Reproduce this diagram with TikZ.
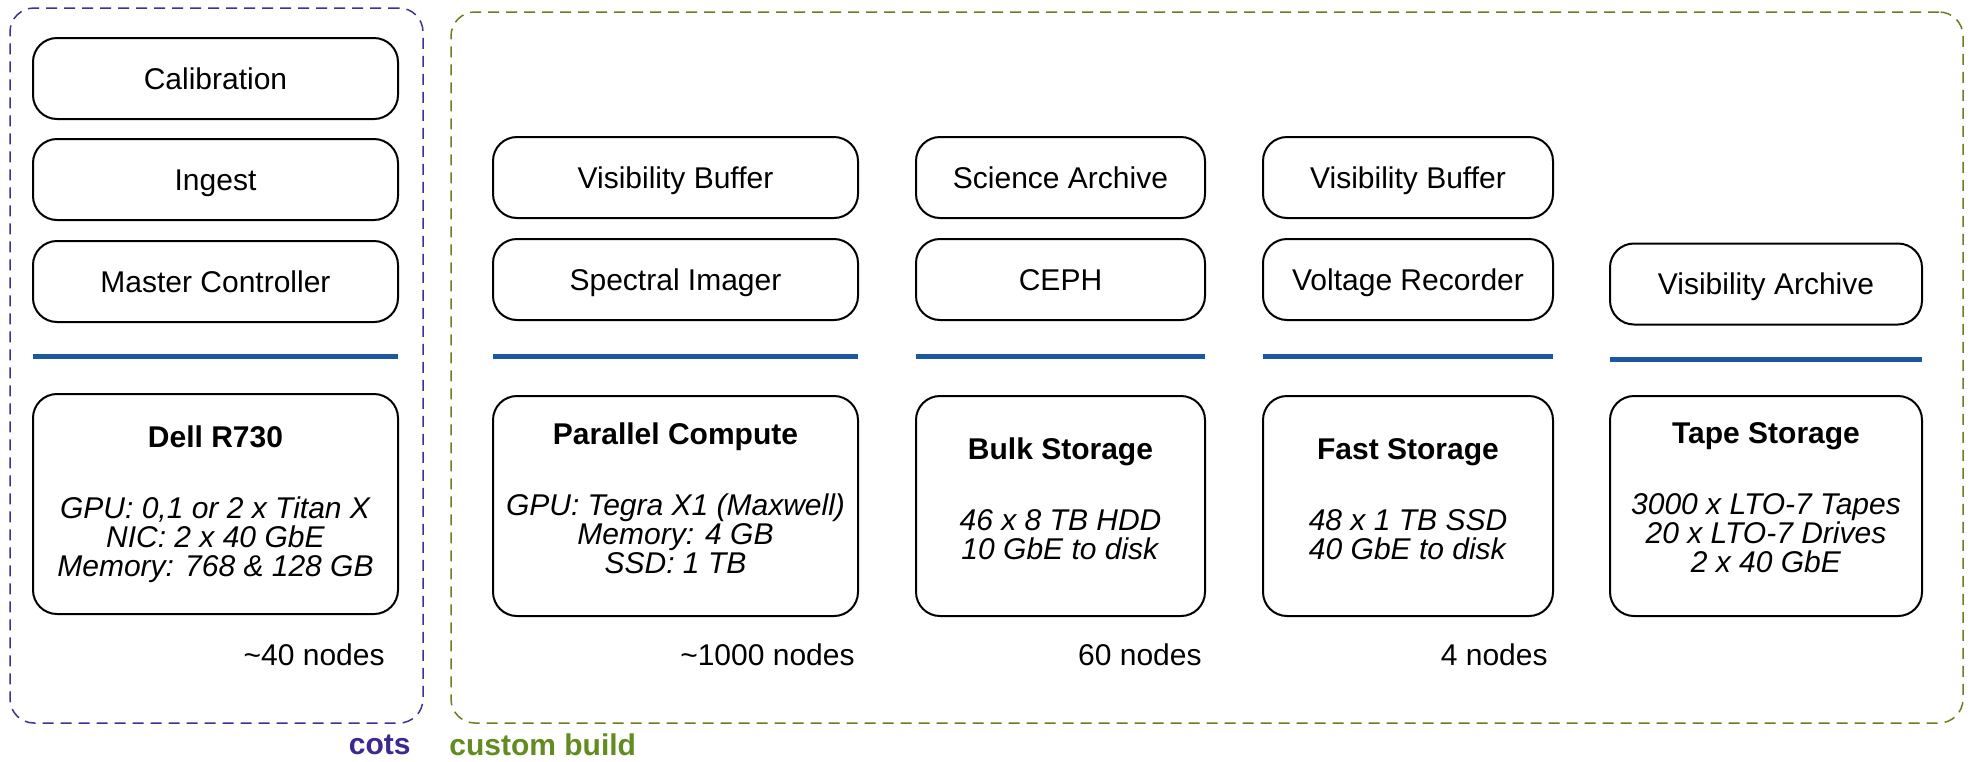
\documentclass[tikz,border=0pt]{standalone}
\usepackage{fontspec}
\setmainfont{Liberation Sans}
\usetikzlibrary{positioning}
\definecolor{busblue}{RGB}{28,88,160}
\definecolor{cotsblue}{RGB}{60,40,145}
\definecolor{buildgreen}{RGB}{98,140,32}
\definecolor{groupindigo}{RGB}{58,50,150}
\definecolor{groupolive}{RGB}{108,124,34}
\tikzset{
  svc/.style={draw, rounded corners=12pt, line width=1pt, minimum height=40.5pt, text height=10.8pt, text depth=0pt},
  hw/.style={draw, rounded corners=12pt, line width=1pt, minimum height=110pt, align=center},
  bus/.style={line width=2.5pt, busblue},
  group/.style={rounded corners=12pt, line width=0.75pt, dash pattern=on 5.5pt off 3.5pt},
  count/.style={anchor=east},
  grouplabel/.style={font=\fontsize{15}{15}\selectfont\bfseries}
}

\begin{document}
\begin{tikzpicture}[
    x=0.5pt, y=-0.5pt,
    every node/.style={font=\fontsize{15}{14.5}\selectfont, inner sep=0pt},
]
\useasboundingbox (0,0) rectangle (1972,761);

% groups
\node[group, draw=groupindigo, minimum width=206.5pt, minimum height=357.5pt] (cots) at (216.5,365.5) {};
\node[group, draw=groupolive, minimum width=756pt, minimum height=355.5pt] (custom) at (1207,367.5) {};
\node[grouplabel, anchor=east, text=cotsblue] (cotslbl) at (411,745) {cots};
\node[grouplabel, anchor=west, text=buildgreen] (customlbl) at (449,745) {custom build};

% cots servers
\node[svc, minimum width=182.5pt] (calib) at (215.5,78.5) {Calibration};
\node[svc, minimum width=182.5pt, below=9pt of calib] (ingest) {Ingest};
\node[svc, minimum width=182.5pt, below=9.5pt of ingest] (master) {Master Controller};
\node[hw, minimum width=182.5pt] (dell) at (215.5,504)
  {\textbf{Dell R730}\\[21pt]\textit{GPU: 0,1 or 2 x Titan X}\\ \textit{NIC: 2 x 40 GbE}\\ \textit{Memory: 768 \& 128 GB}};

% compute
\node[svc, minimum width=182.5pt] (visbuf) at (675.5,177.5) {Visibility Buffer};
\node[svc, minimum width=182.5pt, below=9.5pt of visbuf] (specimg) {Spectral Imager};
\node[hw, minimum width=182.5pt] (parcomp) at (675.5,506)
  {\textbf{Parallel Compute}\\[21pt]\textit{GPU: Tegra X1 (Maxwell)}\\ \textit{Memory: 4 GB}\\ \textit{SSD: 1 TB}\\[-6.5pt]};

% bulk storage
\node[svc, minimum width=144.5pt] (sciarch) at (1060.5,177.5) {Science Archive};
\node[svc, minimum width=144.5pt, below=9.5pt of sciarch] (ceph) {CEPH};
\node[hw, minimum width=144.5pt] (bulk) at (1060.5,506)
  {\textbf{Bulk Storage}\\[21pt]\textit{46 x 8 TB HDD}\\ \textit{10 GbE to disk}\\[-7.5pt]};

% fast storage
\node[svc, minimum width=145pt] (visbuftwo) at (1408,177.5) {Visibility Buffer};
\node[svc, minimum width=145pt, below=9.5pt of visbuftwo] (voltrec) {Voltage Recorder};
\node[hw, minimum width=145pt] (fast) at (1408,506)
  {\textbf{Fast Storage}\\[21pt]\textit{48 x 1 TB SSD}\\ \textit{40 GbE to disk}\\[-7.5pt]};

% tape
\node[svc, minimum width=156pt] (visarch) at (1766,284) {Visibility Archive};
\node[hw, minimum width=156pt] (tape) at (1766,506)
  {\textbf{Tape Storage}\\[21pt]\textit{3000 x LTO-7 Tapes}\\ \textit{20 x LTO-7 Drives}\\ \textit{2 x 40 GbE}\\[-6.5pt]};

% network lines
\foreach \n/\l/\r/\y in {1/33/398/356, 2/493/858/356, 3/916/1205/356, 4/1263/1553/356, 5/1610/1922/359} {
  \coordinate (bus\n w) at (\l,\y);
  \coordinate (bus\n e) at (\r,\y);
  \draw[bus] (bus\n w) -- (bus\n e);
}

% node counts
\node[count] (ncots) at (385,655) {\textasciitilde 40 nodes};
\node[count] (ncomp) at (855,655) {\textasciitilde 1000 nodes};
\node[count] (nbulk) at (1202,655) {60 nodes};
\node[count] (nfast) at (1548,655) {4 nodes};

\end{tikzpicture}
\end{document}
